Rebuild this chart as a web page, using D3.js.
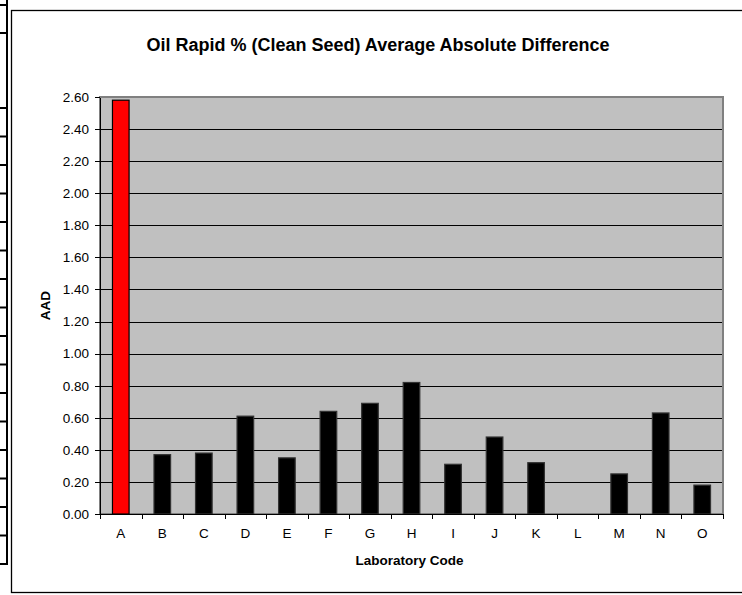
<!DOCTYPE html>
<html lang="en">
<head>
<meta charset="utf-8">
<title>Oil Rapid AAD</title>
<script src="https://cdn.jsdelivr.net/npm/d3@7"></script>
<style>
  body { margin: 0; background: #fff; }
  text { font-family: "Liberation Sans", Arial, sans-serif; }
  .axis text { font-size: 13.5px; fill: #000; }
  .axis path, .axis line { stroke: #000; shape-rendering: crispEdges; }
</style>
</head>
<body>
<script>
// chart values
var labs = ["A","B","C","D","E","F","G","H","I","J","K","L","M","N","O"];
var aad = [2.58,0.37,0.38,0.61,0.35,0.64,0.69,0.82,0.31,0.48,0.32,0,0.25,0.63,0.18];
var yTicks = [0,0.2,0.4,0.6,0.8,1.0,1.2,1.4,1.6,1.8,2.0,2.2,2.4,2.6];
var highlight = "A";

var W = 742, H = 595;
var plot = {left: 100, top: 97, right: 723, bottom: 514};

var svg = d3.select("body").append("svg")
    .attr("width", W).attr("height", H);

// bits of the spreadsheet table peeking in on the left
var rowLines = [5, 33];
for (var k = 0; k <= 16; k++) rowLines.push(108 + k * 28.5);
svg.append("line")
    .attr("x1", 7).attr("x2", 7).attr("y1", 0).attr("y2", 564)
    .attr("stroke", "#000").attr("stroke-width", 2);
svg.selectAll(".row").data(rowLines).enter().append("line")
    .attr("class", "row")
    .attr("x1", 0).attr("x2", 8)
    .attr("y1", function(d){ return d; }).attr("y2", function(d){ return d; })
    .attr("stroke", "#000").attr("stroke-width", 2);

// chart frame (runs off the right edge)
svg.append("rect")
    .attr("x", 11.5).attr("y", 10.5).attr("width", 760).attr("height", 582)
    .attr("fill", "#fff").attr("stroke", "#000").attr("stroke-width", 1.3);

var x = d3.scaleBand().domain(labs)
    .range([plot.left, plot.right])
    .paddingInner(0.6).paddingOuter(0.3);
var y = d3.scaleLinear().domain([0, 2.6]).range([plot.bottom, plot.top]);

// plot area
svg.append("rect")
    .attr("x", plot.left).attr("y", plot.top)
    .attr("width", plot.right - plot.left).attr("height", plot.bottom - plot.top)
    .attr("fill", "#c0c0c0");

// gridlines
svg.selectAll(".grid").data(yTicks.filter(function(d){ return d > 0 && d < 2.6; }))
    .enter().append("line")
    .attr("class", "grid")
    .attr("x1", plot.left).attr("x2", plot.right)
    .attr("y1", function(d){ return Math.round(y(d)) + 0.5; })
    .attr("y2", function(d){ return Math.round(y(d)) + 0.5; })
    .attr("stroke", "#000").attr("stroke-width", 1);

// plot border
svg.append("rect")
    .attr("x", plot.left).attr("y", plot.top)
    .attr("width", plot.right - plot.left).attr("height", plot.bottom - plot.top)
    .attr("fill", "none").attr("stroke", "#808080").attr("stroke-width", 2);

// bars
svg.selectAll(".bar").data(labs).enter().append("rect")
    .attr("class", "bar")
    .attr("x", function(d){ return x(d); })
    .attr("width", x.bandwidth())
    .attr("y", function(d, i){ return y(aad[i]); })
    .attr("height", function(d, i){ return y(0) - y(aad[i]); })
    .attr("fill", function(d){ return d == highlight ? "#ff0000" : "#000"; })
    .attr("stroke", function(d){ return d == highlight ? "#000" : "#333"; })
    .attr("stroke-width", function(d, i){ return aad[i] > 0 ? 1.2 : 0; });

// y axis
svg.append("g")
    .attr("class", "axis")
    .attr("transform", "translate(" + plot.left + ",0)")
    .call(d3.axisLeft(y).tickValues(yTicks).tickSize(5).tickSizeOuter(0)
        .tickFormat(d3.format(".2f")))
    .call(function(g){ g.selectAll("text").attr("dx", "-3"); });

// x axis: labels centred, ticks between categories
var xg = svg.append("g")
    .attr("class", "axis")
    .attr("transform", "translate(0," + plot.bottom + ")")
    .call(d3.axisBottom(x).tickSize(0).tickPadding(14));
xg.select(".domain").remove();
svg.append("line")
    .attr("x1", plot.left).attr("x2", plot.right)
    .attr("y1", plot.bottom + 0.5).attr("y2", plot.bottom + 0.5)
    .attr("stroke", "#000");
var step = x.step();
var bounds = labs.map(function(d){ return x(d) - step * 0.3; });
bounds.push(plot.right);
svg.selectAll(".xtick").data(bounds).enter().append("line")
    .attr("class", "xtick")
    .attr("x1", function(d){ return Math.round(d) + 0.5; })
    .attr("x2", function(d){ return Math.round(d) + 0.5; })
    .attr("y1", plot.bottom).attr("y2", plot.bottom + 5)
    .attr("stroke", "#000");

// titles
svg.append("text")
    .attr("x", 378).attr("y", 51)
    .attr("text-anchor", "middle")
    .attr("font-size", 18).attr("font-weight", "bold")
    .text("Oil Rapid % (Clean Seed) Average Absolute Difference");
svg.append("text")
    .attr("x", (plot.left + plot.right) / 2 - 2).attr("y", 565)
    .attr("text-anchor", "middle")
    .attr("font-size", 13.5).attr("font-weight", "bold")
    .text("Laboratory Code");
svg.append("text")
    .attr("transform", "translate(50," + ((plot.top + plot.bottom) / 2) + ")rotate(-90)")
    .attr("text-anchor", "middle")
    .attr("font-size", 13.5).attr("font-weight", "bold")
    .text("AAD");
</script>
</body>
</html>
